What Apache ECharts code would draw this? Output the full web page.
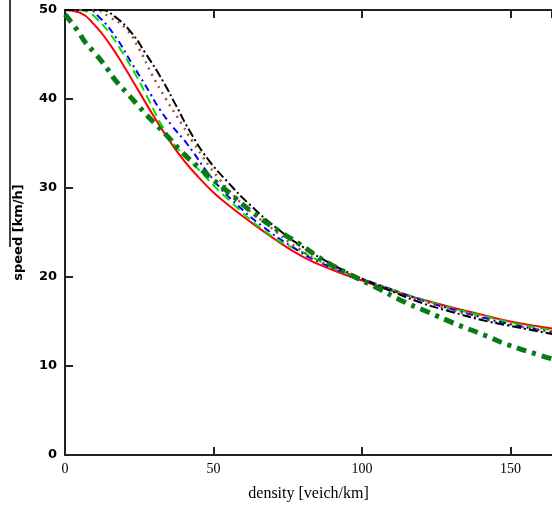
<!DOCTYPE html>
<html>
<head>
<meta charset="utf-8">
<script src="https://cdn.jsdelivr.net/npm/echarts@6/dist/echarts.min.js"></script>
<style>
html, body { margin: 0; padding: 0; background: #fff; }
#main { width: 552px; height: 509px; }
</style>
</head>
<body>
<div id="main"></div>
<script>
var chartDom = document.getElementById('main');
var myChart = echarts.init(chartDom);
var option;

// [density, speed] pairs
var redSolid = [[0,50],[5,49.7],[10,48.3],[15,46.2],[20,43.6],[25,40.8],[30,38],[35,35.4],[40,33.1],[45,31.2],[50,29.5],[55,28.1],[60,26.8],[70,24.4],[80,22.3],[90,20.8],[100,19.6],[110,18.45],[120,17.5],[130,16.6],[140,15.8],[150,15.0],[164,14.2]];
var limeDash = [[0,50],[5,50],[8,49.7],[10.5,49.1],[15,47.4],[19,45.4],[24,42.6],[28.5,39.7],[33,36.8],[38.5,34.2],[44,32.4],[55,28.7],[70,24.5],[80,22.8],[90,21.1],[100,19.8],[110,18.6],[120,17.5],[130,16.5],[140,15.7],[150,14.9],[164,14.0]];
var blueDashDot = [[0,50],[8,50],[11.5,49.2],[17,47],[22.5,44],[27.5,41.3],[32,38.8],[36,37],[41,35],[50,30.9],[58,28.1],[66.5,25.7],[76,23.5],[86,21.6],[100,19.8],[110,18.6],[120,17.4],[130,16.4],[140,15.5],[150,14.7],[164,13.8]];
var brownDot = [[0,50],[10,50],[15,49.2],[20.5,47.9],[25,45.6],[29.5,42.6],[34,40],[39.5,37.1],[43,35.2],[52,31],[61,27.8],[68,25.9],[79,23.1],[90,21.1],[100,19.8],[110,18.6],[120,17.4],[130,16.3],[140,15.4],[150,14.6],[164,13.9]];
var blackDashDot = [[0,50],[12,50],[17,49.2],[22.5,47.4],[27,45.2],[33,42],[37.5,39.2],[42,36.4],[48,33.3],[55,30.6],[62,28.2],[72,25.3],[80,23.4],[89,21.6],[100,19.8],[110,18.4],[120,17.1],[130,16.1],[140,15.2],[150,14.5],[164,13.6]];
var observed = [[0,49.5],[4,47.8],[7,46.3],[10.5,45],[14,43.5],[17,42.1],[20.5,40.8],[24,39.5],[27.5,38.2],[31,37],[34,36],[39.5,34],[47.5,31.6],[55.5,29.4],[63,27.3],[71,25.4],[79,23.7],[87,21.9],[97,20.1],[105,18.8],[113,17.4],[122,16.1],[131,14.8],[141,13.5],[149,12.4],[160,11.2],[164,10.8]];

var xTicks = { min: 0, max: 164, interval: 50 };
var yTicks = { min: 0, max: 50, interval: 10 };

function line(data, color, width, type) {
  return {
    type: 'line',
    data: data,
    smooth: true,
    showSymbol: false,
    silent: true,
    lineStyle: { color: color, width: width, type: type }
  };
}

option = {
  animation: false,
  grid: { left: 65, right: 0, top: 10, bottom: 54, outerBoundsMode: 'none', containLabel: false },
  xAxis: [
    {
      type: 'value', position: 'bottom',
      min: xTicks.min, max: xTicks.max, interval: xTicks.interval,
      name: 'density [veich/km]', nameLocation: 'middle', nameGap: 31,
      nameTextStyle: { fontFamily: 'Liberation Serif', fontSize: 16, color: '#000' },
      axisLine: { show: true, lineStyle: { color: '#222', width: 2 } },
      axisTick: { show: true, inside: true, length: 8, lineStyle: { color: '#222', width: 2 } },
      axisLabel: { fontFamily: 'Liberation Serif', fontSize: 14, color: '#000', margin: 7, showMaxLabel: false },
      splitLine: { show: false }
    },
    {
      type: 'value', position: 'top',
      min: xTicks.min, max: xTicks.max, interval: xTicks.interval,
      axisLine: { show: true, lineStyle: { color: '#222', width: 2 } },
      axisTick: { show: true, inside: true, length: 8, lineStyle: { color: '#222', width: 2 } },
      axisLabel: { show: false },
      splitLine: { show: false }
    }
  ],
  yAxis: {
    type: 'value',
    min: yTicks.min, max: yTicks.max, interval: yTicks.interval,
    name: 'speed [km/h]', nameLocation: 'middle', nameGap: 40, nameRotate: 90,
    nameTextStyle: { fontFamily: 'DejaVu Sans', fontWeight: 'bold', fontSize: 13, color: '#000' },
    axisLine: { show: true, lineStyle: { color: '#222', width: 2 } },
    axisTick: { show: true, inside: true, length: 8, lineStyle: { color: '#222', width: 2 } },
    axisLabel: { fontFamily: 'DejaVu Sans', fontWeight: 'bold', fontSize: 13, color: '#000', margin: 8 },
    splitLine: { show: false }
  },
  graphic: [
    { type: 'line', shape: { x1: 10, y1: 0, x2: 10, y2: 247 }, style: { stroke: '#000', lineWidth: 1.5 } }
  ],
  series: [
    line(redSolid, '#ff0000', 2, 'solid'),
    line(limeDash, '#00e000', 2, [9, 5]),
    line(blueDashDot, '#0000ff', 2, [7, 4, 2, 4]),
    line(brownDot, '#a0522d', 2.5, [2, 5]),
    line(blackDashDot, '#000000', 2, [9, 3, 2, 3]),
    line(observed, '#0a7a14', 5, [10, 6, 4, 6])
  ]
};

option && myChart.setOption(option);
</script>
</body>
</html>
